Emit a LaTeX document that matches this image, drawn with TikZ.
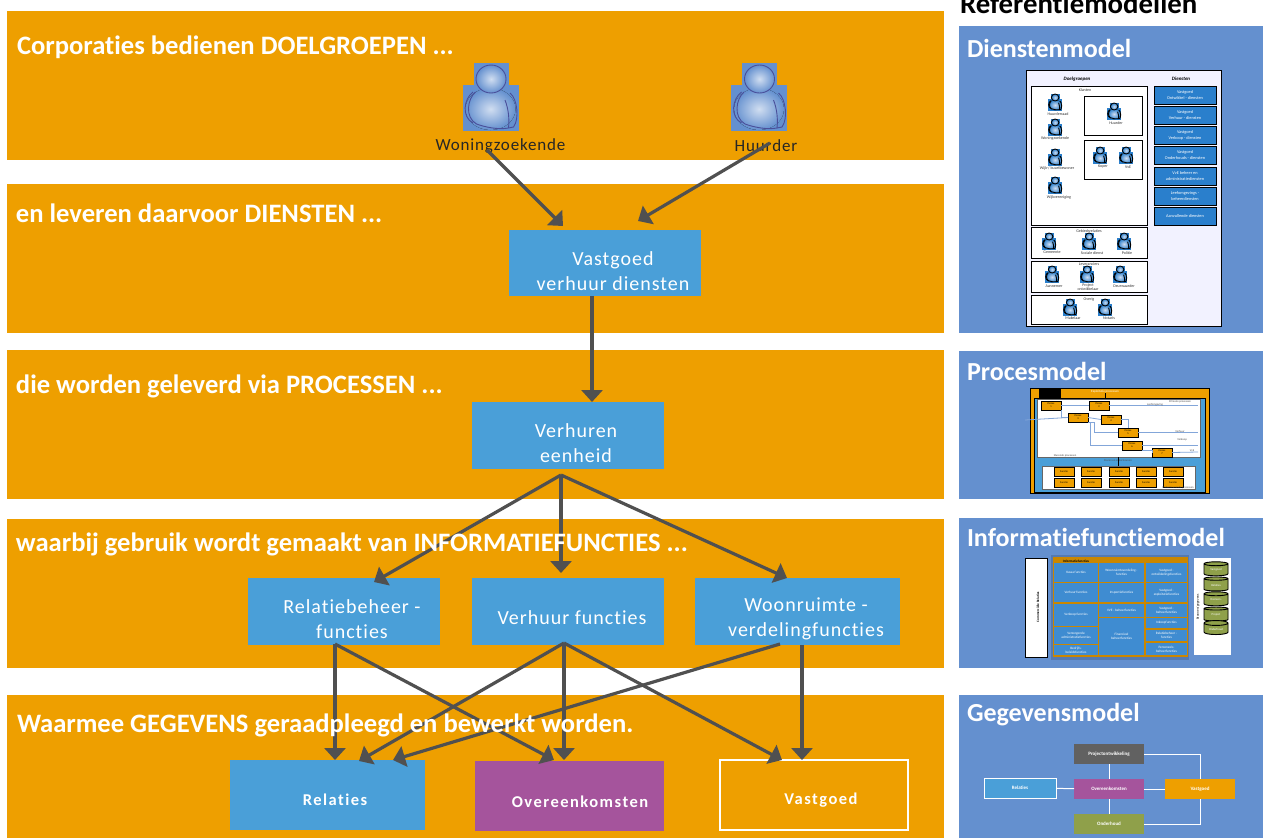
\documentclass[tikz,border=0pt]{standalone}
\usepackage{fontspec}
\setmainfont{Carlito}[Ligatures=CommonOff]
\newfontfamily\vakfont[LetterSpace=5,Ligatures=CommonOff]{Carlito}
\newfontfamily\vakkopfont[LetterSpace=9,Ligatures=CommonOff]{Carlito}
\usetikzlibrary{arrows.meta,shapes.geometric}
\definecolor{bandoranje}{HTML}{EE9F00}
\definecolor{vakblauw}{HTML}{4A9FD8}
\definecolor{paneelblauw}{HTML}{6490CF}
\definecolor{paars}{HTML}{A5549C}
\definecolor{pijlgrijs}{HTML}{505050}
\definecolor{olijf}{HTML}{8FA04A}
\definecolor{dienstblauw}{HTML}{2A7FCC}
\definecolor{icoonlijn}{HTML}{4A4F9A}
\tikzset{
  every node/.style={inner sep=0pt,outer sep=0pt},
  band/.style={fill=bandoranje,minimum width=937pt,anchor=north west},
  paneel/.style={fill=paneelblauw,minimum width=304pt,anchor=north west},
  kop/.style={text=white,anchor=west,font=\bfseries\fontsize{26.6}{26.6}\selectfont},
  paneelkop/.style={text=white,anchor=west,font=\bfseries\fontsize{26}{26}\selectfont},
  vak/.style={fill=vakblauw,anchor=north west},
  vaktekst/.style={text=white,align=center,font=\vakfont\fontsize{20}{25}\selectfont},
  vakkop/.style={text=white,font=\vakkopfont\bfseries\fontsize{16.5}{16.5}\selectfont},
  pijl/.style={draw=pijlgrijs,line width=3.2pt,-{Triangle[length=12pt,width=21pt]}},
  mini/.style={font=\fontsize{4}{4.4}\selectfont,align=center,text=black!80},
  minivak/.style={draw=black,line width=0.8pt,anchor=north west},
  dienstvak/.style={draw=black,line width=0.8pt,fill=dienstblauw,text=white,anchor=north west,
    minimum width=62pt,minimum height=18pt,align=center,font=\fontsize{4.3}{6}\selectfont},
  procesvak/.style={draw=black,line width=0.7pt,fill=bandoranje,minimum width=20pt,minimum height=9pt,
    anchor=north west,align=center,font=\fontsize{2.6}{3}\selectfont},
  proceslijn/.style={draw=paneelblauw!80!white,line width=0.8pt},
  cel/.style={fill=dienstblauw!90!white,text=white,anchor=north west,font=\fontsize{3.4}{4}\selectfont,align=center},
  schijf/.style={cylinder,shape border rotate=90,aspect=0.35,draw=black,line width=0.9pt,fill=olijf,
    cylinder uses custom fill,cylinder body fill=olijf,cylinder end fill=black!80,
    minimum width=24pt,minimum height=14pt,text=white,font=\fontsize{3}{3}\selectfont},
  gegevensvak/.style={minimum width=70pt,minimum height=20pt,text=white,anchor=north west,
    font=\bfseries\fontsize{5}{5}\selectfont},
  witlijn/.style={draw=white,line width=1pt},
  pics/persoon/.style 2 args={code={
    \fill[#1] (-17,-34) rectangle (18,-12);
    \fill[#1] (-28,-12) rectangle (28,34);
    \fill[inner color=paneelblauw!30!white,outer color=#1] (0,12) ellipse (25 and 21);
    \draw[#2,line width=0.9pt] (-17.5,-5) .. controls (-27,2) and (-29,20) .. (-17.5,26);
    \draw[#2,line width=0.9pt] (-15,-5) .. controls (-23,2) and (-26,20) .. (-14,27) .. controls (-6,30) and (8,33) .. (18,31);
    \draw[#2,line width=0.9pt] (14.5,3) .. controls (18,12) and (19,22) .. (18,31);
    \draw[#2,line width=0.9pt] (19.5,-4) .. controls (27,2) and (29,22) .. (23,30) -- (18,31);
    \draw[#2,line width=0.9pt,inner color=paneelblauw!30!white,outer color=#1] (0.5,-18) ellipse (15 and 14);
  }}
}
\begin{document}
\begin{tikzpicture}[x=1pt,y=-1pt]
  \useasboundingbox (0,0) rectangle (1263,838);

  % oranje banden
  \foreach \naam/\y/\h in {een/11/149,twee/184/149,drie/350/149,vier/519/149,vijf/695/143}
    \node[band,minimum height=\h pt] (band\naam) at (7,\y) {};

  % doelgroepen
  \pic at (490.5,97) {persoon={paneelblauw}{icoonlijn}};
  \pic at (759,97) {persoon={paneelblauw}{icoonlijn}};
  \node[font=\vakfont\fontsize{17}{17}\selectfont,text=black!85] (woningzoekende) at (500.5,146) {Woningzoekende};
  \node[font=\vakfont\fontsize{17}{17}\selectfont,text=black!85] (huurder) at (766,146) {Huurder};

  % vakken
  \node[vak,minimum width=192pt,minimum height=66pt] (verhuurdiensten) at (509,230) {};
  \node[vak,minimum width=192pt,minimum height=67pt] (verhuren) at (472,402) {};
  \node[vak,minimum width=192pt,minimum height=67pt] (relatiebeheer) at (248,578) {};
  \node[vak,minimum width=192pt,minimum height=67pt] (verhuurfuncties) at (472,578) {};
  \node[vak,minimum width=205pt,minimum height=67pt] (woonruimte) at (695,578) {};
  \node[vak,minimum width=195pt,minimum height=70pt] (relaties) at (230,760) {};
  \node[vak,fill=paars,minimum width=189pt,minimum height=70pt] (overeenkomsten) at (475,761) {};
  \node[vak,fill=none,draw=white,line width=1.2pt,minimum width=188pt,minimum height=70pt] (vastgoed) at (720,760) {};

  \node[vaktekst] (verhuurdienstentekst) at (613,271.5) {Vastgoed\\verhuur diensten};
  \node[vaktekst] (verhurentekst) at (576,443.5) {Verhuren\\eenheid};
  \node[vaktekst] (relatiebeheertekst) at (352,619.5) {Relatiebeheer -\\functies};
  \node[vaktekst] (verhuurfunctiestekst) at (572,618) {Verhuur functies};
  \node[vaktekst] (woonruimtetekst) at (806,619) {Woonruimte -\\verdelingfuncties};
  \node[vakkop] (relatiestekst) at (335,800) {Relaties};
  \node[vakkop] (overeenkomstentekst) at (580,802) {Overeenkomsten};
  \node[vakkop] (vastgoedtekst) at (821,800) {Vastgoed};

  % pijlen
  \coordinate (tipa) at (563,226);
  \coordinate (tipb) at (638,221);
  \coordinate (startwoning) at (487,150);
  \coordinate (starthuurder) at (770,143);
  \coordinate (startverhuren) at (561,475);
  \coordinate (startrelatie) at (335,644);
  \coordinate (startfunctie) at (564,643);
  \coordinate (startwoonruimte) at (780,644);
  \draw[pijl] (startwoning) -- (tipa);
  \draw[pijl] (starthuurder) -- (tipb);
  \draw[pijl] (verhuurdiensten.south -| 592,0) -- (592,402);
  \draw[pijl] (startverhuren) -- (374,582);
  \draw[pijl] (startverhuren) -- (561,573);
  \draw[pijl] (startverhuren) -- (787,578);
  \draw[pijl] (startrelatie) -- (335,760);
  \draw[pijl] (startrelatie) -- (554,760);
  \draw[pijl] (startfunctie) -- (359,761);
  \draw[pijl] (startfunctie) -- (564,760);
  \draw[pijl] (startfunctie) -- (782,760);
  \draw[pijl] (startwoonruimte) -- (393,760);
  \draw[pijl] (woonruimte.south -| 802,0) -- (802,760);

  % koppen boven de pijlen
  \node[kop] (kopeen) at (17,47) {Corporaties bedienen DOELGROEPEN ...};
  \node[kop] (koptwee) at (16,213.5) {en leveren daarvoor DIENSTEN ...};
  \node[kop] (kopdrie) at (16,386.5) {die worden geleverd via PROCESSEN ...};
  \node[kop] (kopvier) at (16,544) {waarbij gebruik wordt gemaakt van INFORMATIEFUNCTIES ...};
  \node[kop] (kopvijf) at (17,725) {Waarmee GEGEVENS geraadpleegd en bewerkt worden.};

  % referentiemodellen
  \node[anchor=west,text=black,font=\bfseries\fontsize{28.8}{28.8}\selectfont] (referentie) at (960,4) {Referentiemodellen};
  \foreach \naam/\y/\h in {diensten/26/307,proces/351/148,informatie/518/150,gegevens/695/143}
    \node[paneel,minimum height=\h pt] (paneel\naam) at (959,\y) {};
  \node[paneelkop] (kopdiensten) at (967,48) {Dienstenmodel};
  \node[paneelkop] (kopproces) at (967,371) {Procesmodel};
  \node[paneelkop] (kopinformatie) at (967,537) {Informatiefunctiemodel};
  \node[paneelkop] (kopgegevens) at (967,715) {Gegevensmodel};

  % dienstenmodel
  \node[minivak,fill=blue!5!white,minimum width=195pt,minimum height=256pt] (dkader) at (1026,70) {};
  \node[font=\bfseries\itshape\fontsize{5}{5}\selectfont] (doelgroepen) at (1077,79) {Doelgroepen};
  \node[font=\bfseries\itshape\fontsize{5}{5}\selectfont] (diensten) at (1181,79) {Diensten};
  \foreach \naam/\y/\h in {klanten/86/139,gebied/227/31,leveranciers/261/31,overig/295/29}
    \node[minivak,fill=white,minimum width=116pt,minimum height=\h pt] (d\naam) at (1031,\y) {};
  \node[minivak,fill=white,minimum width=58pt,minimum height=39pt] (dhuurder) at (1084,96) {};
  \node[minivak,fill=white,minimum width=58pt,minimum height=39pt] (dkoper) at (1084,140) {};
  \foreach \x/\y in {1055/102,1055/127,1055/157,1055/185,1114/111,1100/155,1126/155,1049/241,1089/241,1124/241,1052/274,1087/274,1120/274,1070/307,1105/307}
    \pic[scale=0.25] at (\x,\y) {persoon={dienstblauw}{black}};
  \foreach \i/\x/\y/\t in {a/1085/90/Klanten,b/1058/114/Huurderraad,c/1055/138/Woningzoekende,d/1057/168/{Wijk-/ buurtbewoner},e/1059/197/Wijkvereniging,f/1116/123/Huurder,g/1103/167/Koper,h/1128/167/VvE,i/1089/231/Gebiedsrelaties,j/1052/252/Gemeente,k/1092/253/Sociale dienst,l/1127/253/Politie,m/1089/264/Leveranciers,n/1054/286/Aannemer,o/1088/287/{Project\\ontwikkelaar},p/1124/286/Deurwaarder,q/1089/299/Overig,r/1073/318/Makelaar,s/1109/318/Notaris}
    \node[mini] (dt\i) at (\x,\y) {\t};
  \foreach \i/\y/\t in {a/86/{Vastgoed\\Ontwikkel - diensten},b/106/{Vastgoed\\Verhuur - diensten},c/126/{Vastgoed\\Verkoop - diensten},d/146/{Vastgoed\\Onderhouds - diensten},e/167/{VvE beheer en\\administratiediensten},f/187/{Leefomgevings -\\beheerdiensten},g/207/Aanvullende diensten}
    \node[dienstvak] (dv\i) at (1154,\y) {\t};

  % procesmodel
  \node[minivak,fill=bandoranje,minimum width=179pt,minimum height=105pt] (pkader) at (1030,388) {};
  \node[minivak,fill=black,minimum width=21pt,minimum height=9pt] (pzwart) at (1039,388) {};
  \node[minivak,fill=vakblauw,minimum width=171pt,minimum height=94pt] (pblauw) at (1034,398) {};
  \node[minivak,draw=black!60,fill=white,minimum width=163pt,minimum height=58pt] (pwit) at (1037,399) {};
  \node[minivak,draw=black!60,fill=white,minimum width=153pt,minimum height=23pt] (ponder) at (1042,466) {};
  \foreach \i/\x/\y in {1/1041/401,2/1089/401,3/1068/413,4/1101/415,5/1118/428,6/1122/441,7/1152/448}
    \node[procesvak] (p\i) at (\x,\y) {Proces\\\i};
  \foreach \i/\x in {1/1054,2/1081,3/1109,4/1136,5/1163}
    \foreach \j/\y in {a/467,b/478}
      \node[procesvak] (q\i\j) at (\x,\y) {Functie};
  \foreach \i/\x/\y in {a/1198/406,b/1198/432,c/1198/441,d/1198/452,e/1025/420}
    \coordinate (peind\i) at (\x,\y);
  \draw[proceslijn] (p1.east) -- (p2.west);
  \draw[proceslijn] (p2.east) -- (peinda |- p2.east);
  \draw[proceslijn] (p1.south east) |- (p3.west);
  \draw[proceslijn] (p3.east) -- (p4.west);
  \draw[proceslijn] (p4.east) -| (p5.north);
  \draw[proceslijn] (p3.south east) -- ++(6,0) |- (p5.west);
  \draw[proceslijn] (p3.south) ++(12,0) |- (p6.west);
  \draw[proceslijn] (p5.east) -- (peindb |- p5.east);
  \draw[proceslijn] (p6.east) -- (peindc |- p6.east);
  \draw[proceslijn] (p6.south east) -| (p7.west);
  \draw[proceslijn] (p7.east) -- (peindd);
  \draw[proceslijn] (peinde) -- (p3.west);
  \foreach \i/\x/\y/\t in {a/1180/402/Primaire processen,b/1155/405/Leefomgeving,c/1180/432/Verhuur,d/1182/440/Verkoop,e/1192/451/VvE,f/1065/456/Sturende processen,g/1118/461/Sturen en ondersteunen,h/1178/488/Ondersteunende processen}
    \node[font=\fontsize{2.8}{3}\selectfont,text=black!70] (pt\i) at (\x,\y) {\t};
  \node[font=\fontsize{3.2}{3}\selectfont,text=white] (ptitel) at (1105,392) {Exploitatie processen};
  \draw[line width=0.8pt] (pblauw.north -| ptitel) -- (ptitel.south);
  \draw[line width=0.8pt] (pwit.south -| ponder) -- (ponder.north);

  % informatiefunctiemodel
  \node[minivak,fill=white,minimum width=22pt,minimum height=99pt] (iklant) at (1025,558) {};
  \node[rotate=90,font=\bfseries\fontsize{3.4}{4}\selectfont] (iklanttekst) at (1038,607) {Commerciële Relaties};
  \node[fill=black!15!paneelblauw,anchor=north west,minimum width=138pt,minimum height=105pt] (iblauw) at (1051,555) {};
  \node[fill=bandoranje!85!black,anchor=north west,minimum width=135pt,minimum height=100pt] (ioranje) at (1053,557) {};
  \node[font=\bfseries\fontsize{3.4}{4}\selectfont] (ikop) at (1076,561) {Informatiefuncties};
  \foreach \i/\x/\y/\w/\h/\t in {a/1054/563/44/19/Kassa functies,b/1054/583/44/19/Verhuur functies,c/1054/604/44/22/Verkoop functies,d/1054/627/44/17/{Verzorgende\\administratiefuncties},e/1054/645/44/10/{Bedrijfs-\\beleidsfuncties},f/1099/563/45/19/{Woonruimteverdeling -\\functies},g/1099/583/45/19/Inspectiefuncties,h/1099/604/45/13/{VVE - beheerfuncties},i/1099/618/45/37/{Financieel\\beheerfuncties},j/1146/563/41/19/{Vastgoed -\\ontwikkelingsfuncties},k/1146/583/41/19/{Vastgoed -\\exploitatiefuncties},l/1146/604/41/13/{Vastgoed -\\beheerfuncties},m/1146/618/41/10/Inkoopfuncties,n/1146/630/41/11/{Relatiebeheer -\\functies},o/1146/643/41/12/{Personeels-\\beheerfuncties}}
    \node[cel,minimum width=\w pt,minimum height=\h pt] (ic\i) at (\x,\y) {\t};
  \node[fill=white,anchor=north west,minimum width=37pt,minimum height=97pt] (ibron) at (1194,558) {};
  \node[rotate=90,font=\fontsize{3.4}{4}\selectfont] (ibrontekst) at (1198,607) {Bronnen/gegevens};
  \foreach \i/\y/\t in {a/570/Vastgoed,b/585/Relaties,c/600/Overeen-,d/615/Project,e/629/Onderhoud}
    \node[schijf] (is\i) at (1216,\y) {\t};

  % gegevensmodel
  \node[gegevensvak,fill=black!62] (gproject) at (1074,744) {Projectontwikkeling};
  \node[gegevensvak,fill=paars] (gover) at (1074,779) {Overeenkomsten};
  \node[gegevensvak,fill=olijf] (gonder) at (1074,814) {Onderhoud};
  \node[gegevensvak,fill=vakblauw,draw=white,line width=1pt,minimum width=72pt] (grelatie) at (984,778) {Relaties};
  \node[gegevensvak,fill=bandoranje] (gvast) at (1165,779) {Vastgoed};
  \draw[witlijn] (gproject) -- (gover);
  \draw[witlijn] (gover) -- (gonder);
  \draw[witlijn] (grelatie) -- (gover);
  \draw[witlijn] (gover) -- (gvast);
  \draw[witlijn] (gproject.east) -| (gvast.north);
  \draw[witlijn] (gonder.east) -| (gvast.south);
\end{tikzpicture}
\end{document}
